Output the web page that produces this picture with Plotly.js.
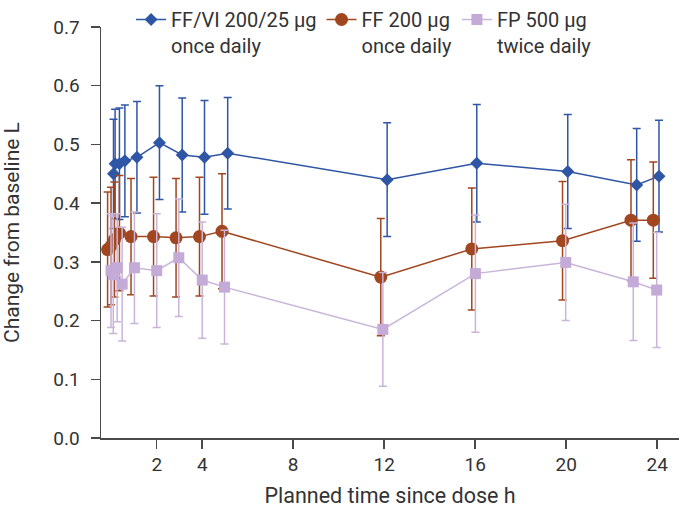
<!DOCTYPE html>
<html>
<head>
<meta charset="utf-8">
<script src="https://cdn.plot.ly/plotly-3.0.1.min.js"></script>
<style>
  html, body { margin: 0; padding: 0; background: #fff; }
  #chart { width: 679px; height: 509px; }
</style>
</head>
<body>
<div id="chart"></div>
<script>
// Values (series are slightly dodged in time).
var seriesNames = ['FF/VI 200/25 µg<br>once daily', 'FF 200 µg<br>once daily', 'FP 500 µg<br>twice daily'];

var ffviTime = [0.10, 0.17, 0.36, 0.60, 1.13, 2.12, 3.12, 4.10, 5.12, 12.13, 16.07, 20.07, 23.10, 24.08];
var ffviMean = [0.450, 0.467, 0.467, 0.472, 0.478, 0.503, 0.482, 0.478, 0.485, 0.440, 0.468, 0.454, 0.431, 0.446];
var ffviSE   = [0.093, 0.093, 0.095, 0.095, 0.095, 0.097, 0.097, 0.097, 0.095, 0.097, 0.100, 0.097, 0.096, 0.095];

var ffTime = [-0.16, -0.01, 0.14, 0.36, 0.87, 1.86, 2.85, 3.88, 4.87, 11.85, 15.85, 19.84, 22.85, 23.83];
var ffMean = [0.321, 0.327, 0.338, 0.349, 0.343, 0.343, 0.341, 0.343, 0.352, 0.274, 0.322, 0.336, 0.371, 0.371];
var ffSE   = [0.098, 0.100, 0.098, 0.098, 0.099, 0.101, 0.101, 0.101, 0.098, 0.100, 0.104, 0.101, 0.103, 0.099];

var fpTime = [-0.01, 0.09, 0.26, 0.48, 1.02, 2.00, 2.97, 4.00, 4.98, 11.94, 16.01, 19.98, 22.95, 23.98];
var fpMean = [0.285, 0.278, 0.290, 0.262, 0.290, 0.285, 0.307, 0.269, 0.257, 0.185, 0.280, 0.299, 0.266, 0.252];
var fpSE   = [0.097, 0.100, 0.092, 0.097, 0.095, 0.097, 0.100, 0.099, 0.097, 0.097, 0.100, 0.099, 0.100, 0.098];

var xTicks = [2, 4, 8, 12, 16, 20, 24];

var BLUE = '#2f55a5', BROWN = '#a1461f', LILAC = '#c4aad6';
var FONT = 'Roboto, "Liberation Sans", sans-serif';

function series(name, t, m, se, color, symbol, size, lineColor) {
  return {
    x: t, y: m, name: name, type: 'scatter', mode: 'lines+markers',
    line: {color: lineColor || color, width: 1.5},
    marker: {color: color, symbol: symbol, size: size},
    error_y: {type: 'data', array: se, visible: true,
              color: lineColor || color, thickness: 1.5, width: 4}
  };
}

var traces = [
  series(seriesNames[0], ffviTime, ffviMean, ffviSE, BLUE, 'diamond', 10),
  series(seriesNames[1], ffTime, ffMean, ffSE, BROWN, 'circle', 13),
  series(seriesNames[2], fpTime, fpMean, fpSE, LILAC, 'square', 11, '#c9b4da')
];

var layout = {
  width: 679, height: 509,
  margin: {l: 101, r: 0, t: 21, b: 71},
  paper_bgcolor: 'white', plot_bgcolor: 'white',
  font: {family: FONT, size: 19, color: '#333'},
  showlegend: true,
  legend: {
    orientation: 'h', x: 0.052, xanchor: 'left', y: 1.066, yanchor: 'top',
    valign: 'top', font: {size: 20, color: '#333'}, itemclick: false,
    bgcolor: 'rgba(0,0,0,0)', tracegroupgap: 0
  },
  xaxis: {
    range: [-0.45, 24.96], tickvals: xTicks, ticktext: xTicks.map(String),
    showgrid: false, zeroline: false, showline: true, linecolor: '#4a4a4a', linewidth: 1.5,
    ticks: 'outside', ticklen: 9, tickwidth: 1.5, tickcolor: '#4a4a4a',
    tickfont: {size: 19, color: '#333'},
    title: {text: 'Planned time since dose h', font: {size: 21.5, color: '#333'}, standoff: 12}
  },
  yaxis: {
    range: [0, 0.7], dtick: 0.1, tickformat: '.1f',
    showgrid: false, zeroline: false, showline: true, linecolor: '#4a4a4a', linewidth: 1.5,
    ticks: 'outside', ticklen: 9, tickwidth: 1.5, tickcolor: '#4a4a4a',
    tickfont: {size: 19, color: '#333'}, ticklabelstandoff: 7,
    title: {text: 'Change from baseline L', font: {size: 21, color: '#333'}, standoff: 28}
  }
};

Plotly.newPlot('chart', traces, layout, {displayModeBar: false, staticPlot: true});
</script>
</body>
</html>
